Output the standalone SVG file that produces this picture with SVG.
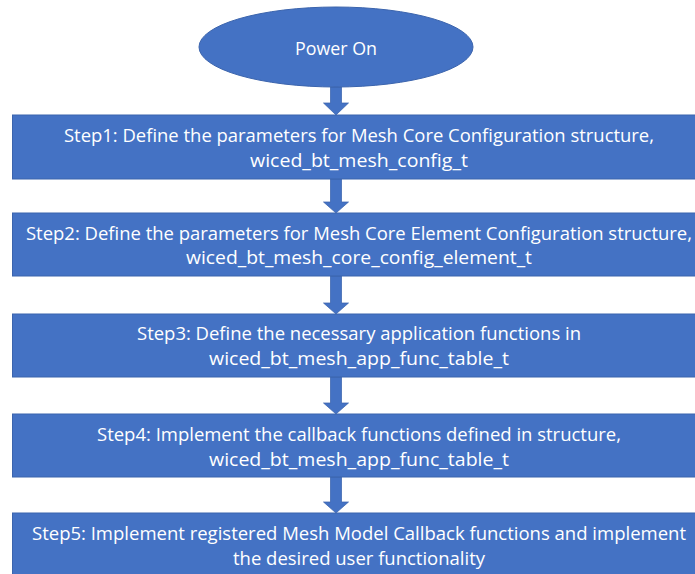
<svg xmlns="http://www.w3.org/2000/svg" width="695" height="574" viewBox="0 0 695 574">
<style>
.shape{fill:#4472C4;stroke:#3B64AD;stroke-width:1}
.arrow{fill:#4472C4;stroke:#3B64AD;stroke-width:0.75}
.t{fill:#FFFFFF;font-family:"Open Sans","Liberation Sans",Arial,sans-serif;font-size:18px;text-anchor:middle}
</style>
<rect width="695" height="574" fill="#FFFFFF"/>
<g id="connectors">
<polygon class="arrow" points="330.5,87 341.5,87 341.5,103 348.5,103 336,115 323.5,103 330.5,103"/>
<polygon class="arrow" points="330.5,179 341.5,179 341.5,202 348.5,202 336,213 323.5,202 330.5,202"/>
<polygon class="arrow" points="330.5,276 341.5,276 341.5,303 348.5,303 336,314 323.5,303 330.5,303"/>
<polygon class="arrow" points="330.5,377 341.5,377 341.5,403 348.5,403 336,414 323.5,403 330.5,403"/>
<polygon class="arrow" points="330.5,477 341.5,477 341.5,502 348.5,502 336,513 323.5,502 330.5,502"/>
</g>
<g id="power-on">
<ellipse class="shape" cx="336" cy="47" rx="137" ry="40"/>
<text class="t" x="336" y="55" textLength="82" lengthAdjust="spacingAndGlyphs">Power On</text>
</g>
<g id="step1">
<rect class="shape" x="12.5" y="115" width="700" height="64"/>
<text class="t" x="359" y="141.5" textLength="590" lengthAdjust="spacingAndGlyphs">Step1: Define the parameters for Mesh Core Configuration structure,</text>
<text class="t" x="359" y="166.5" textLength="218" lengthAdjust="spacingAndGlyphs">wiced_bt_mesh_config_t</text>
</g>
<g id="step2">
<rect class="shape" x="12.5" y="213" width="700" height="63"/>
<text class="t" x="359" y="239.5" textLength="666" lengthAdjust="spacingAndGlyphs">Step2: Define the parameters for Mesh Core Element Configuration structure,</text>
<text class="t" x="359" y="264" textLength="346" lengthAdjust="spacingAndGlyphs">wiced_bt_mesh_core_config_element_t</text>
</g>
<g id="step3">
<rect class="shape" x="12.5" y="314" width="700" height="63"/>
<text class="t" x="359" y="340" textLength="444" lengthAdjust="spacingAndGlyphs">Step3: Define the necessary application functions in</text>
<text class="t" x="359" y="365" textLength="300" lengthAdjust="spacingAndGlyphs">wiced_bt_mesh_app_func_table_t</text>
</g>
<g id="step4">
<rect class="shape" x="12.5" y="414" width="700" height="63"/>
<text class="t" x="359" y="441" textLength="524" lengthAdjust="spacingAndGlyphs">Step4: Implement the callback functions defined in structure,</text>
<text class="t" x="359" y="466" textLength="300" lengthAdjust="spacingAndGlyphs">wiced_bt_mesh_app_func_table_t</text>
</g>
<g id="step5">
<rect class="shape" x="12.5" y="513" width="700" height="70"/>
<text class="t" x="359" y="540" textLength="654" lengthAdjust="spacingAndGlyphs">Step5: Implement registered Mesh Model Callback functions and implement</text>
<text class="t" x="359" y="565" textLength="252" lengthAdjust="spacingAndGlyphs">the desired user functionality</text>
</g>
</svg>
